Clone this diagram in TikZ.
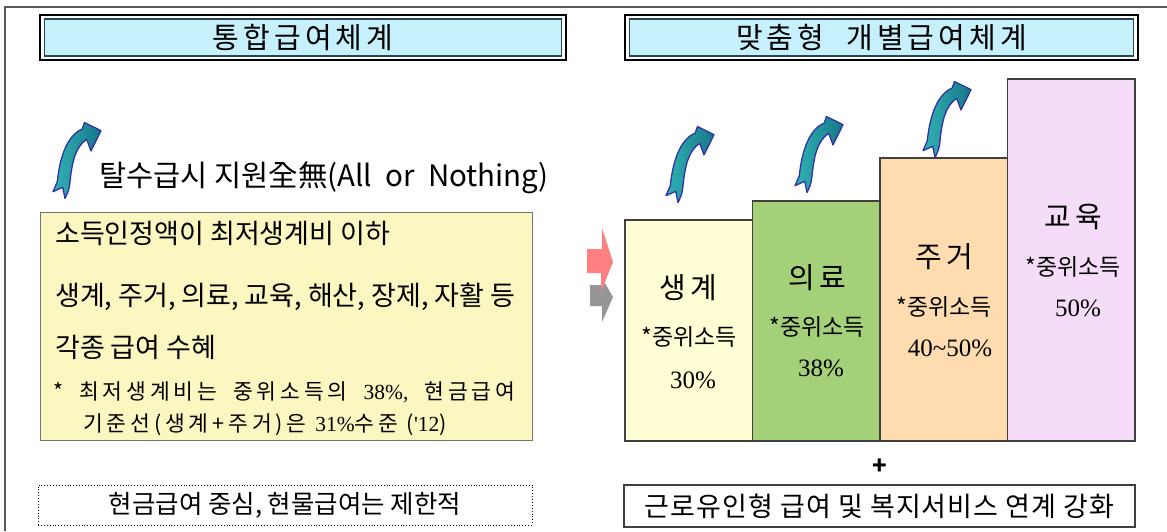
\documentclass[tikz,border=0pt]{standalone}
\usepackage{fontspec}
\setmainfont{Noto Sans CJK KR}
\newfontfamily\titlefont{Noto Sans CJK KR}[LetterSpace=14]
\newfontfamily\notefont{Noto Sans CJK KR}[LetterSpace=18]
\newfontfamily\widefont{Noto Sans CJK KR}[LetterSpace=4]
\newfontfamily\numfont{Liberation Serif}
\usetikzlibrary{positioning}

\definecolor{titlecyan}{RGB}{198,240,252}
\definecolor{titleline}{RGB}{40,70,80}
\definecolor{noteyellow}{RGB}{250,247,192}
\definecolor{barYellow}{RGB}{255,254,212}
\definecolor{barGreen}{RGB}{165,208,122}
\definecolor{barPeach}{RGB}{255,220,176}
\definecolor{barLilac}{RGB}{245,220,248}
\definecolor{arrowlight}{RGB}{48,178,180}
\definecolor{arrowdark}{RGB}{22,120,135}
\definecolor{arrowblue}{RGB}{50,50,165}
\definecolor{pinkarrow}{RGB}{255,128,128}
\definecolor{grayarrow}{RGB}{150,150,150}

\tikzset{
  titleframe/.style={draw=black, line width=2.2pt, minimum width=#1, minimum height=45pt, inner sep=0pt},
  titleinner/.style={draw=titleline, line width=1.6pt, fill=titlecyan, minimum width=#1, minimum height=37pt,
    inner sep=0pt, font=\titlefont\fontsize{29}{30}\selectfont},
  bar/.style={draw=black!75, line width=1.1pt, minimum width=127.5pt, inner sep=0pt, outer sep=0pt},
  bartitle/.style={font=\titlefont\fontsize{29}{30}\selectfont},
  barnote/.style={font=\fontsize{23}{26}\selectfont},
  barnum/.style={font=\numfont\fontsize{25}{28}\selectfont},
  bodyline/.style={anchor=west, inner sep=0pt, font=\fontsize{27}{30}\selectfont},
  noteline/.style={anchor=west, inner sep=0pt, font=\notefont\fontsize{21.5}{24}\selectfont},
  uparrow/.pic={
    \path[left color=arrowlight, right color=arrowdark, draw=arrowblue, line width=1.3pt, line join=round]
      (0,68.7) -- (9.7,64.3) -- (12,75.5) .. controls (16,67) .. (17,58.7)
      .. controls (19,40) and (22,24) .. (33.7,16.3) -- (38,28) -- (48,7.7)
      -- (31.5,-0.5) -- (29.2,6) .. controls (15,12) and (7,32) .. (4.3,58.7) -- cycle;
  }
}

\begin{document}
\begin{tikzpicture}[x=1pt, y=-1pt]
  \useasboundingbox (0,0) rectangle (1167,531);
  \draw[black!65, line width=1.5pt] (5,531) -- (5,7) -- (1167,7);  % frame

  % left side
  \node[titleframe=526pt] (leftframe) at (303,37.5) {};
  \node[titleinner=517pt] (lefttitle) at (303,37.5) {통합급여체계};

  \pic (upleft) at (53,123) {uparrow};
  \node[anchor=west, inner sep=0pt, font=\fontsize{29.5}{30}\selectfont] (allnothing) at (99,178)
    {탈수급시 지원全無(All\ \ or\ \ Nothing)};

  \node[draw=black!55, line width=1pt, fill=noteyellow, minimum width=492pt, minimum height=228pt,
    anchor=north west] (incomebox) at (40,212) {};
  \node[bodyline] (line1) at (55,233) {소득인정액이 최저생계비 이하};
  \node[bodyline] (line2) at (55,297) {생계, 주거, 의료, 교육, 해산, 장제, 자활 등};
  \node[bodyline] (line3) at (55,347) {각종 급여 수혜};
  \node[noteline] (note1) at (53,392) {*\hspace{16pt}최저생계비는\hspace{16pt}중위소득의\hspace{16pt}{\numfont 38\%,}\hspace{16pt}현금급여};
  \node[noteline] (note2) at (83,425) {기준선(생계+주거)은 {\numfont 31\%}수준 ({\numfont '12})};

  \node[draw, dotted, line width=0.9pt, minimum width=494pt, minimum height=40pt, inner sep=0pt,
    font=\fontsize{25.5}{30}\selectfont] (cashbox) at (285,505) {현금급여 중심, 현물급여는 제한적};

  % middle arrows
  \fill[grayarrow] (590,285) -- (602,285) -- (602,278) -- (613,297) -- (602,322) -- (602,306) -- (590,306) -- cycle;
  \fill[pinkarrow] (587,249) -- (602,249) -- (602,228) -- (613,262) -- (601,292) -- (601,273) -- (587,273) -- cycle;

  % right side
  \node[titleframe=513pt] (rightframe) at (881.5,37.5) {};
  \node[titleinner=504pt] (righttitle) at (881.5,37.5) {맞춤형\hspace{22pt}개별급여체계};

  \node[bar, fill=barYellow, minimum height=221pt, anchor=south west] (saenggye) at (625,441) {};
  \node[bar, fill=barGreen, minimum height=240pt, anchor=south west] (uiryo) at (saenggye.south east) {};
  \node[bar, fill=barPeach, minimum height=283pt, anchor=south west] (jugeo) at (uiryo.south east) {};
  \node[bar, fill=barLilac, minimum height=362pt, anchor=south west] (gyoyuk) at (jugeo.south east) {};

  \node[bartitle] (t1) at (688,288) {생계};
  \node[barnote] (m1) at (689,337) {*중위소득};
  \node[barnum] (p1) at (693,380) {30\%};
  \node[bartitle] (t2) at (817,278) {의료};
  \node[barnote] (m2) at (817,327) {*중위소득};
  \node[barnum] (p2) at (821,368) {38\%};
  \node[bartitle] (t3) at (944,257) {주거};
  \node[barnote] (m3) at (944,307) {*중위소득};
  \node[barnum] (p3) at (950,348) {40\textasciitilde50\%};
  \node[bartitle] (t4) at (1073,217) {교육};
  \node[barnote] (m4) at (1073,267) {*중위소득};
  \node[barnum] (p4) at (1078,308) {50\%};

  \pic (up1) at (666,127) {uparrow};
  \pic (up2) at (795,117) {uparrow};
  \pic (up3) at (923,82) {uparrow};

  \node[font=\bfseries\fontsize{24}{24}\selectfont] (plus) at (880,467) {+};
  \node[draw=black!75, line width=1.1pt, minimum width=511pt, minimum height=42pt, inner sep=0pt,
    font=\widefont\fontsize{27}{30}\selectfont] (workbox) at (879.5,506) {근로유인형 급여 및 복지서비스 연계 강화};
\end{tikzpicture}
\end{document}
